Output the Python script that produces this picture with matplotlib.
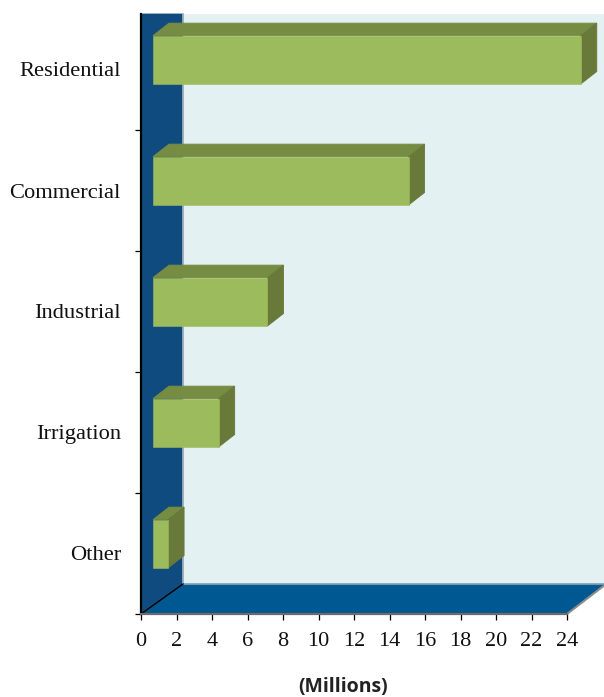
import matplotlib
matplotlib.use('Agg')
import matplotlib.pyplot as plt
from matplotlib.patches import Polygon, Rectangle

# Datos
categories = ['Other', 'Irrigation', 'Industrial', 'Commercial', 'Residential']
values = [0.85, 3.7, 6.45, 14.4, 24.1]
x_ticks = list(range(0, 26, 2))

W, H = 604, 697
fig = plt.figure(figsize=(W / 100, H / 100), dpi=100)
ax = fig.add_axes([141 / W, (H - 614) / H, (567 - 141) / W, 600 / H])
ax.set_xlim(0, 24)
ax.set_ylim(0, 600 / 121)

# profundidad de la caja y de las barras, en unidades de datos
dx, dy = 42 / 17.75, 30 / 121
bx, by = 16 / 17.75, 12.5 / 121
x0 = 12 / 17.75
xr = 26.2
top = 600 / 121


def poly(pts, color, z):
    # borde del mismo color para tapar la junta entre caras
    ax.add_patch(Polygon(pts, closed=True, facecolor=color, edgecolor=color, lw=0.6,
                         clip_on=False, zorder=z))


# pared del fondo, pared izquierda y piso
poly([(dx, dy), (xr, dy), (xr, top), (dx, top)], '#e3f1f3', 1)
poly([(0, 0), (dx, dy), (dx, top), (0, top)], '#104b7f', 1)
poly([(0, 0), (dx, dy), (xr, dy), (24, 0)], '#005893', 1)
ax.plot([dx, dx], [dy, top], color='#a9b4bd', lw=1.2, clip_on=False, zorder=2)
ax.plot([dx, xr], [dy, dy], color='#7f93a3', lw=0.8, clip_on=False, zorder=2)
ax.plot([0, dx], [0, dy], color='black', lw=1, clip_on=False, zorder=3)
ax.plot([24, xr], [0, dy], color='#8a8a8a', lw=1.5, clip_on=False, zorder=2)

# barras 3D
for i, v in enumerate(values):
    y0 = i + 0.58 - 0.2
    y1 = i + 0.58 + 0.2
    x1 = x0 + v
    poly([(x0, y1), (x0 + bx, y1 + by), (x1 + bx, y1 + by), (x1, y1)], '#768c43', 4)
    poly([(x1, y0), (x1 + bx, y0 + by), (x1 + bx, y1 + by), (x1, y1)], '#68793a', 4)
    ax.add_patch(Rectangle((x0, y0), v, y1 - y0, facecolor='#9cbb5c', edgecolor='#9cbb5c',
                           lw=0.4, clip_on=False, zorder=5))

for s in ['top', 'right']:
    ax.spines[s].set_visible(False)
ax.spines['left'].set_color('black')
ax.spines['left'].set_linewidth(1.6)
ax.spines['left'].set_zorder(6)
ax.spines['bottom'].set_color('#6b6b6b')
ax.spines['bottom'].set_linewidth(1.6)
ax.spines['bottom'].set_zorder(6)

serif = 'Liberation Serif'
ax.set_xticks(x_ticks[:13])
ax.set_xticklabels([str(t) for t in x_ticks[:13]], family=serif, fontsize=16)
ax.set_yticks(range(0, 5))
ax.set_yticklabels([])
ax.set_yticks([i + 0.5 for i in range(5)], minor=True)
ax.set_yticklabels(categories, minor=True, family=serif, fontsize=16.2, color='#111111')
ax.tick_params(axis='y', which='minor', length=0, pad=14.4)
ax.tick_params(axis='y', which='major', length=4, width=0.9)
ax.tick_params(axis='x', which='major', length=4, width=0.9, pad=9, labelcolor='#111111')

fig.text(343 / W, (H - 687) / H, '(Millions)', ha='center', va='center',
         family='Open Sans', fontweight='bold', fontsize=14, color='#222222')

fig.savefig('out.png', dpi=100)
